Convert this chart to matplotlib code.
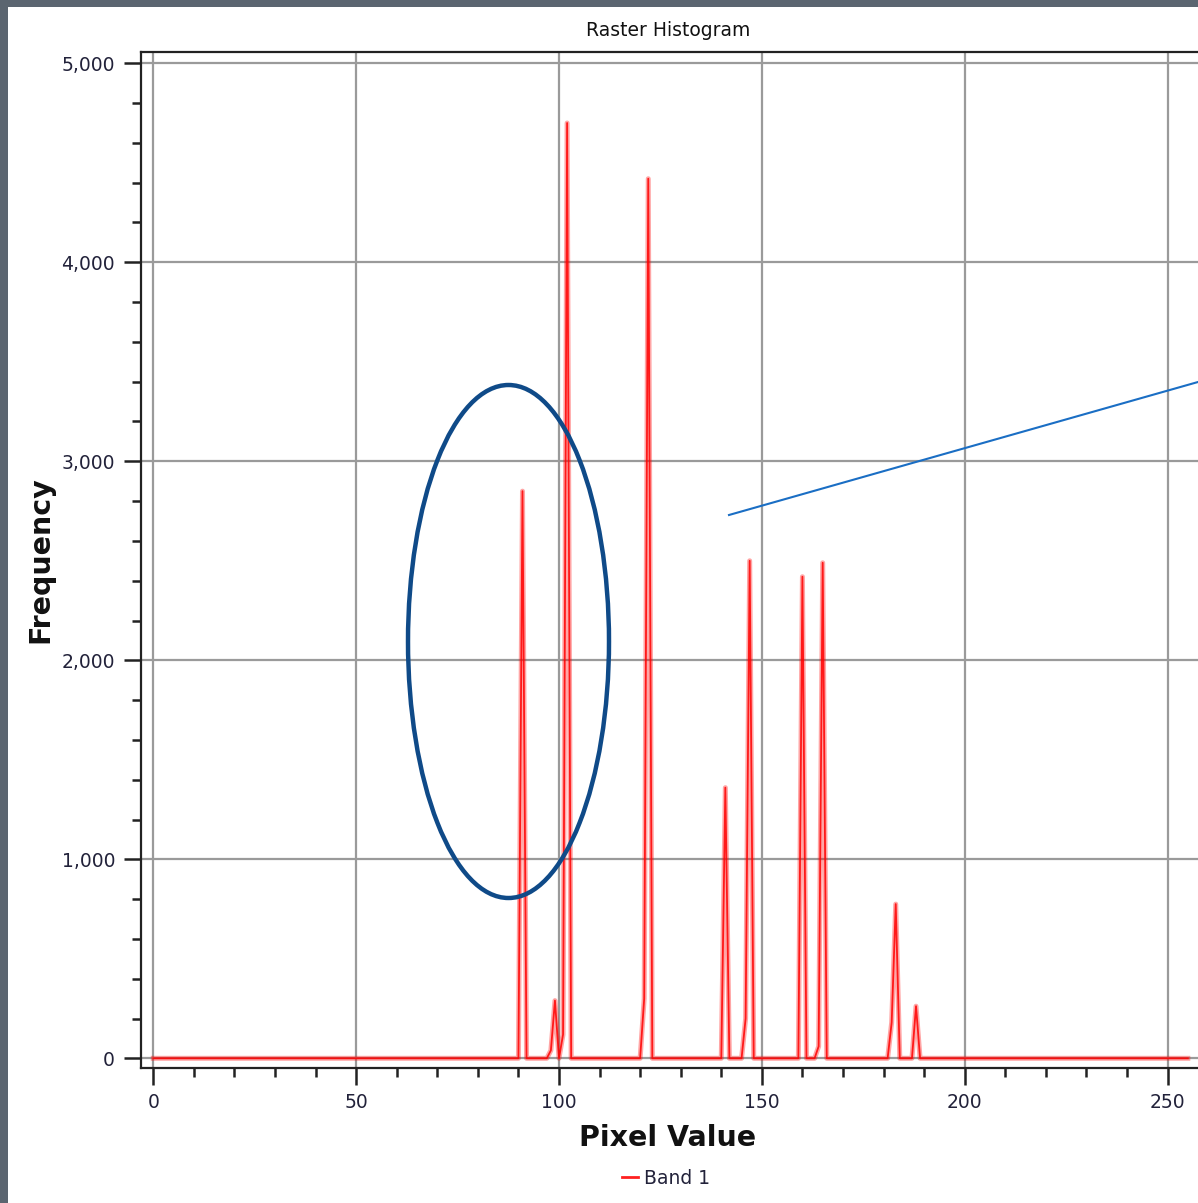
import matplotlib
matplotlib.use("Agg")
import matplotlib.pyplot as plt
import matplotlib.patches as patches
from matplotlib.lines import Line2D
from matplotlib.ticker import MultipleLocator, FuncFormatter
import numpy as np

# histogram of band 1: pixel value -> frequency (all other bins are 0)
peak_bins = [91, 98, 99, 101, 102, 121, 122, 141, 146, 147, 160, 164, 165, 182, 183, 188]
peak_counts = [2850, 40, 290, 120, 4700, 300, 4420, 1360, 200, 2500, 2420, 60, 2490, 180, 775, 262]
n_bins = 256

x_ticks = [0, 50, 100, 150, 200, 250]
y_ticks = [0, 1000, 2000, 3000, 4000, 5000]

pixel_values = np.arange(n_bins)
frequency = np.zeros(n_bins)
frequency[peak_bins] = peak_counts

W, H = 1198, 1203
fig = plt.figure(figsize=(W / 100, H / 100), dpi=100, facecolor='#5b6570')
plt.rcParams['font.family'] = ['DejaVu Sans']

# white chart panel inside the dark border
fig.add_artist(patches.Rectangle((8 / 100, 0), (W - 8) / 100, (H - 7) / 100,
                                 transform=fig.dpi_scale_trans, facecolor='white',
                                 edgecolor='none', zorder=0))

left_px, right_px, top_px, bottom_px = 140.7, 1205, 51.7, 1068.3
ax = fig.add_axes([left_px / W, 1 - bottom_px / H, (right_px - left_px) / W, (bottom_px - top_px) / H])
ax.set_facecolor('none')

x0_px, px_per_unit = 153.3, 4.057
ax.set_xlim((left_px - x0_px) / px_per_unit, (right_px - x0_px) / px_per_unit)
y0_px, px_per_1000 = 1058.3, 199.0
ax.set_ylim((y0_px - bottom_px) / px_per_1000 * 1000, (y0_px - top_px) / px_per_1000 * 1000)

# red line: pale halo + core
ax.plot(pixel_values, frequency, color='#ff0000', lw=3.6, alpha=0.35, zorder=3)
ax.plot(pixel_values, frequency, color='#ff0000', lw=1.3, alpha=0.85, zorder=4)

ax.set_xticks(x_ticks)
ax.set_yticks(y_ticks)
ax.xaxis.set_minor_locator(MultipleLocator(10))
ax.yaxis.set_minor_locator(MultipleLocator(200))
ax.yaxis.set_major_formatter(FuncFormatter(lambda v, p: f"{v:,.0f}"))
ax.grid(True, which='major', color='#9a9a9a', lw=1.6, zorder=1)
ax.set_axisbelow(True)

for s in ['left', 'bottom', 'top']:
    ax.spines[s].set_color('#222222')
    ax.spines[s].set_linewidth(1.6)
ax.spines['right'].set_visible(False)

ax.tick_params(which='major', direction='out', length=12, width=1.8, color='#222222',
               labelsize=13.5, labelcolor='#22223a')
ax.tick_params(axis='y', which='major', pad=6.5)
ax.tick_params(axis='x', which='major', pad=6)
ax.tick_params(which='minor', direction='out', length=6.5, width=1.8, color='#222222')

# texts
fig.text(668 / W, 1 - 31 / H, 'Raster Histogram', ha='center', va='center', fontsize=13.5, color='#111111')
fig.text(667.5 / W, 1 - 1138 / H, 'Pixel Value', ha='center', va='center', fontsize=20.5,
         fontweight='bold', color='#111111')
fig.text(40 / W, 1 - 560 / H, 'Frequency', ha='center', va='center', fontsize=20.5,
         fontweight='bold', rotation=90, color='#111111')

fig.legend(handles=[Line2D([], [], color='#ff2020', lw=2)], labels=['Band 1'],
           loc='center', bbox_to_anchor=(666 / W, 1 - 1178 / H), frameon=False,
           handlelength=0.85, handletextpad=0.3, fontsize=13.5, labelcolor='#22223a')

# annotations drawn on top of the chart
fig.add_artist(patches.Ellipse((508.5 / 100, (H - 641.5) / 100), 201 / 100, 513 / 100,
                               transform=fig.dpi_scale_trans, fill=False,
                               edgecolor='#0f4a88', lw=3.2, zorder=10))
fig.add_artist(Line2D([729 / 100, 1198 / 100], [(H - 515) / 100, (H - 382) / 100],
                      transform=fig.dpi_scale_trans, color='#1a6ec4', lw=1.5, zorder=10))

fig.savefig('out.png', dpi=100, facecolor=fig.get_facecolor())
